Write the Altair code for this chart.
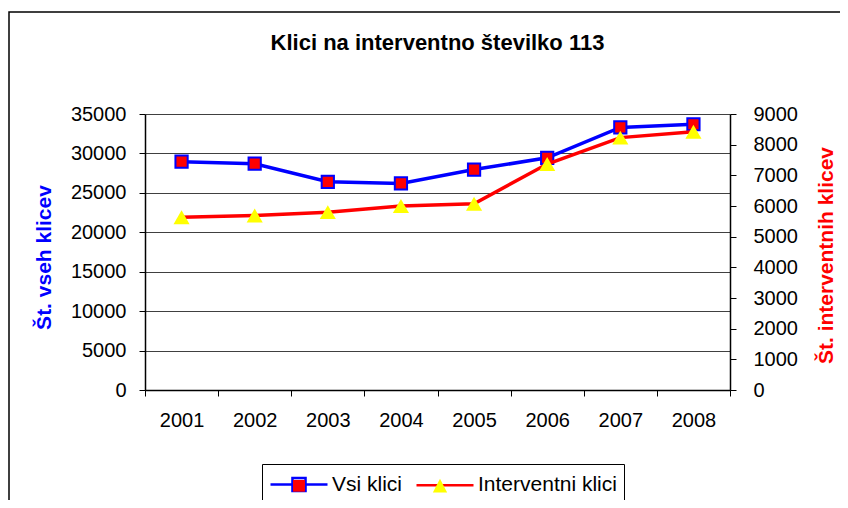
import altair as alt
import pandas as pd

# ---- data ----
years = ["2001", "2002", "2003", "2004", "2005", "2006", "2007", "2008"]
vsi_klici = [28950, 28700, 26400, 26200, 27950, 29450, 33300, 33700]
interventni_klici = [5630, 5690, 5800, 6000, 6070, 7370, 8230, 8420]
series_names = ["Vsi klici", "Interventni klici"]
left_ticks = [0, 5000, 10000, 15000, 20000, 25000, 30000, 35000]
right_ticks = [0, 1000, 2000, 3000, 4000, 5000, 6000, 7000, 8000, 9000]

df = pd.DataFrame({"leto": years, "vsi": vsi_klici, "interv": interventni_klici})
legend_df = pd.DataFrame({"serija": series_names, "serija_m": series_names})
frame_df = pd.DataFrame({"k": [0]})

FONT = "Liberation Sans"
BLUE = "#0000FF"
RED = "#FF0000"
YELLOW = "#FFFF00"

# legend symbols (custom paths): line part + marker outline, and marker fill on top
sym_line_square = "M-1,0L0.83,0M1.92,0L3.75,0M0.83,-0.54L1.92,-0.54L1.92,0.54L0.83,0.54Z"
sym_line = "M-1,0L3.75,0"
sym_square_fill = "M0.88,-0.49L1.87,-0.49L1.87,0.49L0.88,0.49Z"
sym_triangle_fill = "M1.375,-0.52L1.97,0.64L0.78,0.64Z"

x_enc = alt.X(
    "leto:O",
    bandPosition=0.5,
    scale=alt.Scale(type="band", paddingInner=0, paddingOuter=0),
    axis=alt.Axis(
        title=None, labelAngle=0, tickBand="extent", labelFontSize=20, labelFont=FONT,
        labelColor="black", labelPadding=14, tickSize=6, tickColor="black", tickWidth=1,
        domainColor="black", domainWidth=1.5, grid=False,
    ),
)

left_axis = alt.Axis(
    orient="left", values=left_ticks, format="d", title="Št. vseh klicev", titleColor=BLUE,
    titleFontSize=21, titleFontWeight="bold", titleFont=FONT, titleAngle=270,
    titleX=-101, titleY=143, titleAlign="center", titleBaseline="middle",
    labelFontSize=20, labelFont=FONT, labelColor="black", labelPadding=13,
    tickSize=6, tickColor="black", domainColor="black", domainWidth=1.5,
    grid=True, gridColor="#404040", gridWidth=1,
)
right_axis = alt.Axis(
    orient="right", values=right_ticks, format="d", title="Št. interventnih klicev", titleColor=RED,
    titleFontSize=21, titleFontWeight="bold", titleFont=FONT, titleAngle=270,
    titleX=96, titleY=141, titleAlign="center", titleBaseline="middle",
    labelFontSize=20, labelFont=FONT, labelColor="black", labelPadding=17,
    tickSize=6, tickColor="black", domainColor="black", domainWidth=1.5, grid=False,
)

y_left = alt.Y("vsi:Q", scale=alt.Scale(domain=[0, 35000], nice=False), axis=left_axis)
y_right = alt.Y("interv:Q", scale=alt.Scale(domain=[0, 9000], nice=False), axis=right_axis)

base = alt.Chart(df)
blue_line = base.mark_line(color=BLUE, strokeWidth=3.5).encode(x=x_enc, y=y_left)
blue_pts = base.mark_point(
    shape="square", filled=True, fill=RED, stroke=BLUE, strokeWidth=2, size=150, opacity=1
).encode(x=x_enc, y=y_left)

legend_common = dict(
    title=None, orient="none", legendX=117, legendY=350, direction="horizontal", columns=2,
    symbolSize=576, symbolOpacity=1, symbolStrokeWidth=2.5, labelFontSize=21, labelFont=FONT,
    labelColor="black", labelOffset=36, padding=7,
)
# legend with the texts, line parts and marker outlines
legend_lines = alt.Legend(strokeColor="black", fillColor="white", columnPadding=8, **legend_common)
# overlay legend with only the marker fills (no texts), aligned on the first one
legend_marks = alt.Legend(
    symbolStrokeColor="transparent", labelExpr="''", columnPadding=78, **legend_common
)

legend_line_layer = alt.Chart(legend_df).mark_point(filled=False, opacity=1, strokeWidth=2.5).encode(
    shape=alt.Shape("serija:N", scale=alt.Scale(domain=series_names, range=[sym_line_square, sym_line]), legend=legend_lines),
    stroke=alt.Stroke("serija:N", scale=alt.Scale(domain=series_names, range=[BLUE, RED]), legend=legend_lines),
).transform_filter("false")

legend_mark_layer = alt.Chart(legend_df).mark_point(
    filled=True, opacity=1, stroke="transparent", strokeWidth=2.5
).encode(
    shape=alt.Shape("serija_m:N", scale=alt.Scale(domain=series_names, range=[sym_square_fill, sym_triangle_fill]), legend=legend_marks),
    fill=alt.Fill("serija_m:N", scale=alt.Scale(domain=series_names, range=[RED, YELLOW]), legend=legend_marks),
).transform_filter("false")

red_line = base.mark_line(color=RED, strokeWidth=3.5).encode(x=x_enc, y=y_right)
red_pts = base.mark_point(
    shape="triangle-up", filled=True, fill=YELLOW, strokeWidth=0, size=260, opacity=1
).encode(x=x_enc, y=y_right)

frame = alt.Chart(frame_df).mark_rect(filled=False, stroke="black", strokeWidth=1.5).encode(
    x=alt.value(-136), x2=alt.value(800), y=alt.value(-102), y2=alt.value(420)
)

left = alt.layer(blue_line, blue_pts, legend_line_layer)
right = alt.layer(red_line, red_pts, legend_mark_layer)

chart = alt.layer(frame, left, right).resolve_scale(
    y="independent", shape="independent", fill="independent", stroke="independent"
).properties(
    width=585,
    height=276,
    autosize="none",
    padding={"left": 137, "top": 106, "right": 110, "bottom": 110},
    background="white",
    title=alt.Title(
        "Klici na interventno številko 113", font=FONT, fontSize=22, fontWeight="bold",
        color="black", anchor="middle", frame="group", baseline="alphabetic", offset=0, dy=61,
    ),
).configure_view(stroke=None)

chart.save("out.html", embed_options={"renderer": "svg", "actions": False})
